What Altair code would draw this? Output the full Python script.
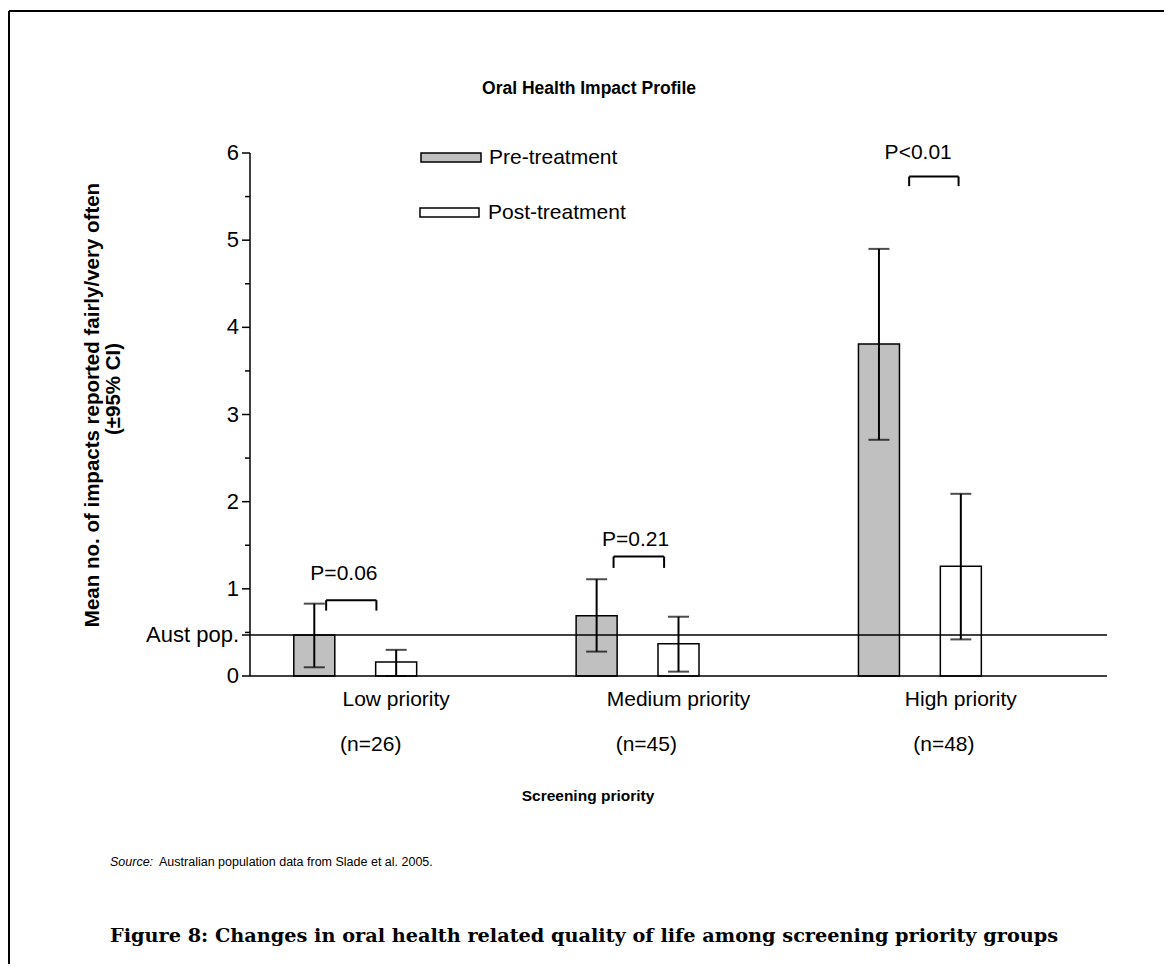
import altair as alt
import pandas as pd

# ---------------- data ----------------
groups = ["Low priority", "Medium priority", "High priority"]
n_labels = ["(n=26)", "(n=45)", "(n=48)"]
series = ["Pre-treatment", "Post-treatment"]

pre_mean = [0.47, 0.69, 3.81]
pre_lo = [0.10, 0.28, 2.71]
pre_hi = [0.83, 1.11, 4.90]

post_mean = [0.16, 0.37, 1.26]
post_lo = [0.00, 0.05, 0.42]
post_hi = [0.30, 0.68, 2.09]

p_labels = ["P=0.06", "P=0.21", "P<0.01"]
p_label_y = [1.17, 1.56, 6.00]
bracket_top = [0.87, 1.37, 5.73]
bracket_leg = [0.75, 1.24, 5.62]

aust_pop = 0.47
aust_label = "Aust pop."
y_major = [0, 1, 2, 3, 4, 5, 6]
y_major_labels = ["0", "1", "2", "3", "4", "5", "6"]
y_minor = [0.5, 1.5, 2.5, 3.5, 4.5, 5.5]

# ---------------- layout constants ----------------
W, H = 857, 523
PAD = {"left": 242, "top": 145, "right": 57, "bottom": 288}
PRE_OFF, POST_OFF = 0.21, 0.50
BR_LEFT = [0.252, 0.270, 0.317]
BR_RIGHT = [0.430, 0.449, 0.492]
P_OFF = [0.315, 0.348, 0.349]
N_OFF = [0.41, 0.386, 0.44]
FONT = "Liberation Sans"
GRAY = "#c0c0c0"

rows = []
for i, g in enumerate(groups):
    rows.append(dict(group=g, series=series[0], pos=i + PRE_OFF,
                     mean=pre_mean[i], lo=pre_lo[i], hi=pre_hi[i]))
    rows.append(dict(group=g, series=series[1], pos=i + POST_OFF,
                     mean=post_mean[i], lo=post_lo[i], hi=post_hi[i]))
bars_df = pd.DataFrame(rows)

caps_df = pd.concat([
    bars_df[["pos", "lo"]].rename(columns={"lo": "v"}),
    bars_df[["pos", "hi"]].rename(columns={"hi": "v"}),
])

br_df = pd.DataFrame({
    "left": [i + BR_LEFT[i] for i in range(3)],
    "right": [i + BR_RIGHT[i] for i in range(3)],
    "top": bracket_top, "leg": bracket_leg,
})
legs_df = pd.concat([
    br_df[["left", "top", "leg"]].rename(columns={"left": "x"}),
    br_df[["right", "top", "leg"]].rename(columns={"right": "x"}),
])
p_df = pd.DataFrame({"x": [i + P_OFF[i] for i in range(3)], "y": p_label_y, "t": p_labels})
cat_df = pd.DataFrame({"x": [i + POST_OFF for i in range(3)], "t": groups})
n_df = pd.DataFrame({"x": [i + N_OFF[i] for i in range(3)], "t": n_labels})
minor_df = pd.DataFrame({"v": y_minor})
ylab_df = pd.DataFrame({"v": y_major + [aust_pop], "t": y_major_labels + [aust_label]})

xscale = alt.Scale(domain=[0, 3], nice=False, zero=False)
yscale = alt.Scale(domain=[0, 6], nice=False)


def X(field):
    return alt.X(field, scale=xscale, axis=None)


def Y(field):
    return alt.Y(field, scale=yscale, axis=None)


base = alt.Chart(bars_df)

bars = base.mark_bar(size=41, stroke="black", strokeWidth=1.5).encode(
    x=X("pos:Q"),
    y=Y("mean:Q"),
    y2=alt.datum(0),
    fill=alt.Fill("series:N", scale=alt.Scale(domain=series, range=[GRAY, "white"]), legend=None),
)

# axes drawn through the scales
x_base = alt.Chart(pd.DataFrame({"v": [0]})).mark_rule(color="black", strokeWidth=1.5).encode(
    y=Y("v:Q"))
y_line = alt.Chart(pd.DataFrame({"a": [0]})).mark_rule(color="black", strokeWidth=1.5).encode(
    x=alt.value(0), y=alt.value(0), y2=alt.value(H))
major = alt.Chart(ylab_df).mark_rule(color="black", strokeWidth=1.5).encode(
    y=Y("v:Q"), x=alt.value(-8), x2=alt.value(0))
minor = alt.Chart(minor_df).mark_rule(color="black", strokeWidth=1.5).encode(
    y=Y("v:Q"), x=alt.value(-5), x2=alt.value(0))
ylabels = alt.Chart(ylab_df).mark_text(font=FONT, fontSize=22, color="black", align="right",
                                       baseline="middle").encode(
    x=alt.value(-11), y=Y("v:Q"), text="t:N")

aust = alt.Chart(pd.DataFrame({"v": [aust_pop]})).mark_rule(color="black", strokeWidth=1.5).encode(
    y=Y("v:Q"))

err = base.mark_rule(color="black", strokeWidth=2).encode(
    x=X("pos:Q"), y=Y("lo:Q"), y2="hi:Q")
caps = alt.Chart(caps_df).mark_tick(orient="horizontal", size=21, thickness=2, color="black").encode(
    x=X("pos:Q"), y=Y("v:Q"))

br_h = alt.Chart(br_df).mark_rule(color="black", strokeWidth=2).encode(
    x=X("left:Q"), x2="right:Q", y=Y("top:Q"))
br_v = alt.Chart(legs_df).mark_rule(color="black", strokeWidth=2).encode(
    x=X("x:Q"), y=Y("leg:Q"), y2="top:Q")
p_txt = alt.Chart(p_df).mark_text(font=FONT, fontSize=21, color="black", baseline="middle").encode(
    x=X("x:Q"), y=Y("y:Q"), text="t:N")
cat_txt = alt.Chart(cat_df).mark_text(font=FONT, fontSize=21, color="black", baseline="middle").encode(
    x=X("x:Q"), y=alt.value(H + 24), text="t:N")
n_txt = alt.Chart(n_df).mark_text(font=FONT, fontSize=21, color="black", baseline="middle").encode(
    x=X("x:Q"), y=alt.value(H + 69), text="t:N")

# legend (manual)
one = pd.DataFrame({"a": [0]})
leg_pre = alt.Chart(one).mark_rect(fill=GRAY, stroke="black", strokeWidth=1.5).encode(
    x=alt.value(171), x2=alt.value(231), y=alt.value(0), y2=alt.value(9))
leg_post = alt.Chart(one).mark_rect(fill="white", stroke="black", strokeWidth=1.5).encode(
    x=alt.value(170), x2=alt.value(229), y=alt.value(55), y2=alt.value(64))
leg_pre_t = alt.Chart(one).mark_text(font=FONT, fontSize=21, align="left", baseline="middle",
                                     color="black", text=series[0]).encode(
    x=alt.value(239), y=alt.value(5))
leg_post_t = alt.Chart(one).mark_text(font=FONT, fontSize=21, align="left", baseline="middle",
                                      color="black", text=series[1]).encode(
    x=alt.value(238), y=alt.value(60))


def label(text, x, y, size, weight="normal", style="normal", font=FONT, align="center", angle=0):
    return alt.Chart(one).mark_text(text=text, font=font, fontSize=size, fontWeight=weight,
                                    fontStyle=style, align=align, baseline="middle",
                                    color="black", angle=angle).encode(
        x=alt.value(x), y=alt.value(y))


title = label("Oral Health Impact Profile", 339, -64, 17.5, "bold")
ytitle1 = label("Mean no. of impacts reported fairly/very often", -157, 252, 20.5, "bold", angle=270)
ytitle2 = label("(\u00b195% CI)", -136, 236, 20.5, "bold", angle=270)
xtitle = label("Screening priority", 338, 643, 15.5, "bold")
src1 = label("Source:", -140, 709, 12.5, style="italic", align="left")
src2 = label("Australian population data from Slade et al. 2005.", -91, 709, 12.5, align="left")
caption = label("Figure 8: Changes in oral health related quality of life among screening priority groups",
                -140, 783, 19.3, "bold", font="DejaVu Serif", align="left")

border_top = alt.Chart(one).mark_rule(color="black", strokeWidth=2).encode(
    x=alt.value(-241), x2=alt.value(W + PAD["right"]), y=alt.value(-142))
border_left = alt.Chart(one).mark_rule(color="black", strokeWidth=2).encode(
    x=alt.value(-241), y=alt.value(-142), y2=alt.value(H + PAD["bottom"]))

chart = alt.layer(
    bars, aust, x_base, y_line, major, minor, ylabels, err, caps, br_h, br_v,
    p_txt, cat_txt, n_txt,
    leg_pre, leg_post, leg_pre_t, leg_post_t,
    title, ytitle1, ytitle2, xtitle, src1, src2, caption, border_top, border_left,
).properties(
    width=W, height=H, padding=PAD, autosize=alt.AutoSizeParams(type="none"),
    background="white",
).configure_view(stroke=None)

chart.save("out.html", embed_options={"renderer": "svg", "actions": False})
